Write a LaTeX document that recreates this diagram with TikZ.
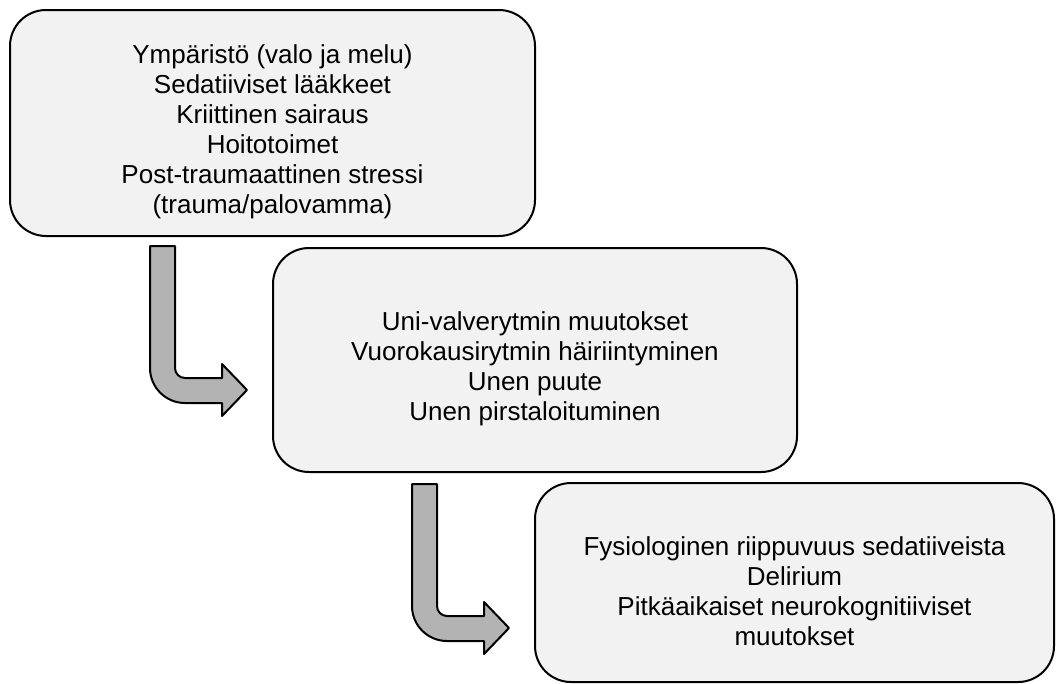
\documentclass[tikz,border=0pt]{standalone}
\usepackage{fontspec}
\setmainfont{Liberation Sans}
\usetikzlibrary{positioning}
\definecolor{boxgray}{HTML}{F2F2F2}
\definecolor{arrowgray}{HTML}{B3B3B3}
\newcommand{\topgap}{\rule{0pt}{36pt}}
\begin{document}
\begin{tikzpicture}[x=1pt,y=1pt,line width=2pt,
	bentarrow/.pic={
		\draw[fill=arrowgray,line join=round] (0,0) -- (25,0) -- (25,-122)
			arc[start angle=180,end angle=270,radius=10pt] -- (72,-132) -- (72,-118)
			-- (97,-144) -- (72,-170) -- (72,-157) -- (35,-157)
			arc[start angle=270,end angle=180,radius=35pt] -- cycle;
	}]
	\useasboundingbox (0,0) rectangle (1056,-683);
	\begin{scope}[every node/.style={draw,fill=boxgray,rounded corners=36pt,
		align=center,inner sep=0pt,font=\fontsize{26}{30}\selectfont}]
	\node (A) at (272.5,-123) [minimum width=525pt,minimum height=226pt]
		{\topgap Ympäristö (valo ja melu)\\Sedatiiviset lääkkeet\\Kriittinen sairaus\\Hoitotoimet\\Post-traumaattinen stressi\\(trauma/palovamma)};
	\node (B) at (535,-360) [minimum width=524pt,minimum height=224pt]
		{\topgap Uni-valverytmin muutokset\\Vuorokausirytmin häiriintyminen\\Unen puute\\Unen pirstaloituminen};
	\node (C) at (794.5,-582.5) [minimum width=519pt,minimum height=199pt]
		{\topgap Fysiologinen riippuvuus sedatiiveista\\Delirium\\Pitkäaikaiset neurokognitiiviset\\muutokset};
	\end{scope}

	\pic at ([xshift=141pt,yshift=-9pt]A.south west) {bentarrow};
	\pic at ([xshift=140pt,yshift=-11pt]B.south west) {bentarrow};
\end{tikzpicture}
\end{document}
